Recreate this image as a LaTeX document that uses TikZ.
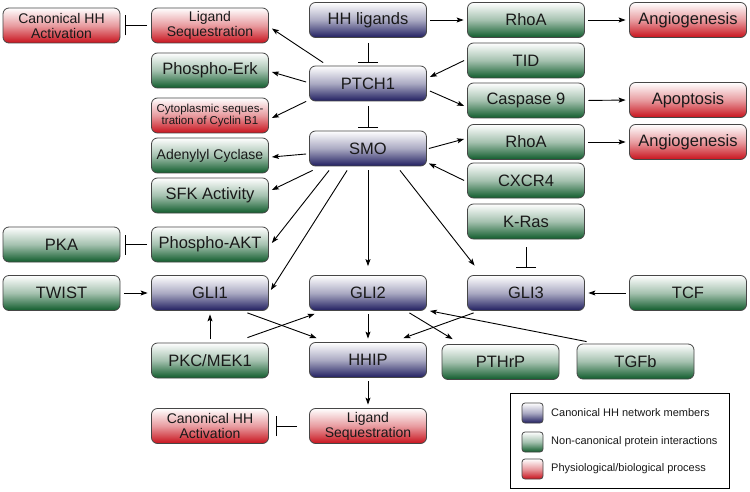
\documentclass[tikz,border=0pt]{standalone}
\usepackage{fontspec}
\setmainfont{Liberation Sans}
\usetikzlibrary{arrows.meta}
\definecolor{bdark}{RGB}{32,30,96}
\definecolor{gdark}{RGB}{16,92,44}
\definecolor{rdark}{RGB}{200,18,28}
\definecolor{bordc}{RGB}{70,70,70}
\definecolor{txt}{RGB}{25,25,25}
\begin{document}
\begin{tikzpicture}[x=1pt,y=-1pt,
 box/.style={draw=bordc, line width=0.8pt, rounded corners=6pt, minimum width=117pt, minimum height=35pt, inner sep=1pt, align=center, text=txt, font=\fontsize{16.5}{18}\selectfont},
 canon/.style={box, top color=white, bottom color=bdark, middle color=bdark!38!white},
 noncan/.style={box, top color=white, bottom color=gdark, middle color=gdark!38!white},
 proc/.style={box, top color=white, bottom color=rdark, middle color=rdark!42!white},
 two/.style={font=\fontsize{14}{15}\selectfont},
 arr/.style={line width=0.9pt, -{Stealth[length=7pt,width=5pt,inset=1.5pt]}},
 tbar/.style={line width=0.9pt, -{Bar[width=20pt]}},
 sh/.style={shorten <=3.5pt, shorten >=3.5pt},
 sw/.style={minimum width=21pt, minimum height=20pt, rounded corners=3pt},
 legtext/.style={anchor=west, inner sep=0pt, text=txt, font=\fontsize{11}{12}\selectfont}
]
\useasboundingbox (0,0) rectangle (750,492);
\fill[white] (0,0) rectangle (750,492);
% column A
\node[proc,two] (CanAct1) at (61.5,25.5) {Canonical HH\\Activation};
\node[noncan] (PKA) at (61.5,244.5) {PKA};
\node[noncan] (TWIST) at (61.5,293) {TWIST};
% column B
\node[proc,two] (LigSeq1) at (210,25.5) {Ligand\\Sequestration};
\node[noncan] (PhosErk) at (210,70.5) {Phospho-Erk};
\node[proc,font=\fontsize{11.5}{12.5}\selectfont] (Cyto) at (210,115.5) {Cytoplasmic seques-\\tration of Cyclin B1};
\node[noncan,two] (Adenyl) at (210,155.5) {Adenylyl Cyclase};
\node[noncan] (SFK) at (210,195.5) {SFK Activity};
\node[noncan] (PAKT) at (210,244.5) {Phospho-AKT};
\node[canon] (GLI1) at (210,293) {GLI1};
\node[noncan] (PKCMEK) at (210,360.5) {PKC/MEK1};
\node[proc,two] (CanAct2) at (210,426) {Canonical HH\\Activation};
% column C
\node[canon] (HHlig) at (368,20) {HH ligands};
\node[canon] (PTCH1) at (368,83.5) {PTCH1};
\node[canon] (SMO) at (368,148.5) {SMO};
\node[canon] (GLI2) at (368,293) {GLI2};
\node[canon] (HHIP) at (368,360) {HHIP};
\node[proc,two] (LigSeq2) at (368,426) {Ligand\\Sequestration};
% column D
\node[noncan] (RhoA1) at (526,20) {RhoA};
\node[noncan] (TID) at (526,60.5) {TID};
\node[noncan] (Casp9) at (526,100.5) {Caspase 9};
\node[noncan] (RhoA2) at (526,142) {RhoA};
\node[noncan] (CXCR4) at (526,180.5) {CXCR4};
\node[noncan] (KRas) at (526,221.5) {K-Ras};
\node[canon] (GLI3) at (526,293) {GLI3};
\node[noncan] (PTHrP) at (500.5,362) {PTHrP};
% column E
\node[proc] (Angio1) at (688,20) {Angiogenesis};
\node[proc] (Apop) at (688,100) {Apoptosis};
\node[proc] (Angio2) at (688,142) {Angiogenesis};
\node[noncan] (TCF) at (688,293) {TCF};
\node[noncan] (TGFb) at (635.5,361.5) {TGFb};
% connectors
\draw[arr,sh] (HHlig.east) -- (RhoA1.west);
\draw[arr,sh] (RhoA1.east) -- (Angio1.west);
\draw[tbar] ([shift={(0,5)}]HHlig.south) -- ([shift={(0,-3)}]PTCH1.north);
\draw[arr] ([shift={(14,-3)}]PTCH1.north west) -- ([shift={(3,3)}]LigSeq1.east);
\draw[arr] ([shift={(-3,-1.5)}]PTCH1.west) -- ([shift={(3,1.5)}]PhosErk.east);
\draw[arr] ([shift={(-3,0)}]PTCH1.south west) -- ([shift={(3,2.5)}]Cyto.east);
\draw[arr] ([shift={(-3,0)}]TID.west) -- ([shift={(3,-6.5)}]PTCH1.east);
\draw[arr] ([shift={(3,7.5)}]PTCH1.east) -- ([shift={(-3,5.5)}]Casp9.west);
\draw[arr,sh] (Casp9.east) -- (Apop.west);
\draw[tbar] ([shift={(0,5)}]PTCH1.south) -- ([shift={(0,-3)}]SMO.north);
\draw[arr] ([shift={(2,0)}]SMO.east) -- ([shift={(-3,-3)}]RhoA2.west);
\draw[arr,sh] (RhoA2.east) -- (Angio2.west);
\draw[arr] ([shift={(-3,0)}]CXCR4.west) -- ([shift={(2,-3)}]SMO.south east);
\draw[arr] ([shift={(-3,5.5)}]SMO.west) -- ([shift={(3,1.5)}]Adenyl.east);
\draw[arr] ([shift={(3.5,4)}]SMO.south west) -- ([shift={(3,-5.5)}]SFK.east);
\draw[arr] ([shift={(20,4)}]SMO.south west) -- ([shift={(3,-1.5)}]PAKT.east);
\draw[arr] ([shift={(38,4)}]SMO.south west) -- ([shift={(2,-3)}]GLI1.east);
\draw[arr] ([shift={(0,4)}]SMO.south) -- ([shift={(0,-9)}]GLI2.north);
\draw[arr] ([shift={(32,4)}]SMO.south) -- ([shift={(7.5,-9.5)}]GLI3.north west);
\draw[tbar] ([shift={(0,8)}]KRas.south) -- ([shift={(0,-7)}]GLI3.north);
\draw[arr,sh] (TCF.west) -- (GLI3.east);
\draw[arr,sh] (TWIST.east) -- (GLI1.west);
\draw[tbar] ([shift={(-4,0)}]PAKT.west) -- ([shift={(4.5,0)}]PKA.east);
\draw[tbar] ([shift={(-4,0)}]LigSeq1.west) -- ([shift={(4.5,0)}]CanAct1.east);
\draw[arr,sh] (PKCMEK.north) -- (GLI1.south);
\draw[arr] ([shift={(-21.5,-5)}]PKCMEK.north east) -- ([shift={(5.5,3)}]GLI2.south west);
\draw[arr] ([shift={(-21.5,2)}]GLI1.south east) -- ([shift={(7.5,-4)}]HHIP.north west);
\draw[arr,sh] (GLI2.south) -- (HHIP.north);
\draw[arr] ([shift={(-17.5,2)}]GLI2.south east) -- ([shift={(11,-5)}]PTHrP.north west);
\draw[arr] ([shift={(6.5,2)}]GLI3.south west) -- ([shift={(-23.5,-4)}]HHIP.north east);
\draw[arr] ([shift={(10,-2)}]TGFb.north west) -- ([shift={(3,0)}]GLI2.south east);
\draw[arr,sh] (HHIP.south) -- (LigSeq2.north);
\draw[tbar] ([shift={(-12,0)}]LigSeq2.west) -- ([shift={(7,0)}]CanAct2.east);
% legend
\node[draw=black, line width=0.8pt, minimum width=219pt, minimum height=95pt, inner sep=0pt] (legend) at (619.5,440.5) {};
\node[canon,sw] (sw1) at (532.5,413) {};
\node[noncan,sw] (sw2) at (532.5,442) {};
\node[proc,sw] (sw3) at (532.5,469) {};
\node[legtext] (lt1) at (551,413) {Canonical HH network members};
\node[legtext] (lt2) at (551,442) {Non-canonical protein interactions};
\node[legtext] (lt3) at (551,469) {Physiological/biological process};
\end{tikzpicture}
\end{document}
